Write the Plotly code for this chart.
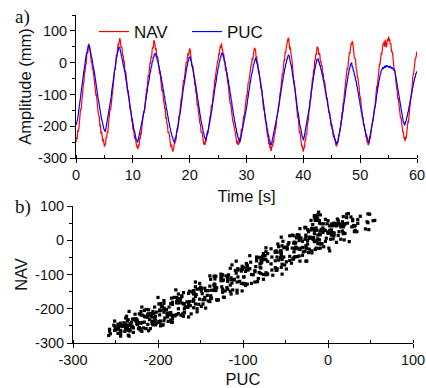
import plotly.graph_objects as go

# ---------------- data ----------------
# Respiratory amplitude (mm), sampled every 0.1 s from 0 to 60 s
nav = [
    -250,-235,-240,-214,-215,-209,-179,-175,-145,-148,-121,-97,-99,-67,-61,-27,-31,-6,-4,25,33,31,58,57,
    51,25,29,1,3,-23,-19,-37,-61,-55,-84,-102,-101,-126,-127,-157,-167,-169,-198,-197,-224,-217,-229,-248,-240,-258,-264,-256,
    -258,-233,-237,-217,-221,-196,-177,-177,-145,-149,-122,-101,-97,-83,-49,-46,-21,-23,6,25,22,43,60,54,76,77,
    70,49,50,48,21,23,4,4,-27,-25,-35,-60,-67,-92,-86,-114,-118,-146,-148,-155,-183,-183,-210,-205,-220,-239,-231,-252,-250,-267,-263,-272,
    -257,-263,-236,-241,-220,-226,-202,-185,-186,-155,-156,-147,-118,-114,-84,-85,-59,-39,-45,-20,-1,-3,19,15,42,47,45,69,68,
    57,39,45,19,20,17,-10,-10,-36,-32,-55,-59,-88,-87,-94,-122,-126,-146,-143,-174,-173,-193,-194,-222,-218,-224,-247,-247,-266,-258,-265,-280,-274,
    -272,-250,-255,-236,-244,-218,-205,-210,-185,-167,-171,-147,-142,-113,-116,-87,-83,-55,-62,-39,-22,-23,3,-1,16,30,22,42,45,
    39,13,15,-11,-10,-16,-44,-47,-72,-69,-95,-100,-132,-131,-148,-170,-167,-191,-194,-220,-217,-222,-243,-242,-258,-249,-259,
    -242,-249,-230,-216,-224,-203,-205,-176,-167,-165,-136,-137,-128,-99,-88,-85,-52,-55,-35,-16,-20,4,7,29,23,42,54,47,61,
    41,43,20,27,4,3,-24,-23,-34,-61,-63,-70,-99,-100,-128,-126,-143,-166,-161,-186,-187,-210,-211,-216,-237,-236,-255,-246,-258,-257,
    -253,-236,-245,-222,-208,-215,-195,-195,-167,-169,-145,-149,-122,-104,-105,-82,-61,-64,-49,-25,-31,-7,-6,15,8,32,36,47,43,
    39,14,20,-3,-4,-31,-25,-48,-51,-80,-81,-89,-120,-125,-147,-147,-178,-180,-187,-212,-208,-232,-233,-256,-249,-266,-265,-278,-273,
    -258,-264,-247,-251,-222,-225,-204,-205,-179,-162,-164,-140,-138,-107,-96,-90,-60,-59,-33,-35,-9,8,7,34,30,48,62,58,76,78,
    66,42,50,23,18,10,-21,-26,-56,-57,-78,-107,-107,-136,-144,-172,-172,-200,-219,-218,-243,-240,-262,-261,-277,-280,
    -266,-269,-244,-246,-224,-227,-195,-185,-179,-147,-146,-120,-116,-83,-77,-49,-49,-23,-22,9,7,28,24,48,49,
    45,25,29,27,1,6,-11,-8,-34,-32,-58,-56,-64,-87,-91,-115,-109,-133,-134,-159,-153,-176,-179,-201,-194,-218,-216,-236,-230,-245,-241,-258,-262,-260,
    -248,-252,-227,-231,-208,-214,-186,-181,-157,-157,-126,-129,-101,-83,-79,-50,-45,-18,-22,7,7,33,28,48,61,57,68,
    62,37,38,13,15,9,-19,-22,-47,-45,-68,-72,-101,-105,-114,-143,-149,-172,-170,-198,-192,-214,-215,-235,-229,-248,-247,-260,-257,
    -253,-232,-239,-219,-202,-206,-184,-183,-153,-141,-140,-109,-104,-76,-77,-51,-33,-31,-3,-6,16,31,25,46,58,58,
    66,50,72,62,48,58,74,68,82,
    68,75,57,61,35,36,30,2,-1,-26,-24,-48,-51,-79,-87,-114,-112,-128,-154,-152,-174,-174,-200,-200,-219,-216,-237,-236,-247,
    -233,-239,-215,-212,-186,-187,-162,-139,-138,-110,-107,-73,-68,-39,-35,-11,-12,13,15,34,36,
]

puc = [
    -197,-193,-184,-176,-161,-154,-139,-130,-112,-101,-83,-72,-54,-43,-25,-15,2,10,25,31,44,48,55,
    53,47,34,32,19,15,1,-5,-19,-26,-41,-49,-65,-73,-90,-98,-114,-122,-137,-144,-158,-164,-178,-183,-195,-198,-209,-211,-217,
    -214,-203,-199,-186,-180,-165,-158,-141,-133,-115,-107,-88,-79,-60,-52,-34,-26,-9,-2,13,18,32,35,46,49,
    47,38,35,23,20,7,2,-12,-18,-33,-39,-55,-62,-79,-86,-102,-110,-126,-134,-149,-157,-172,-178,-193,-198,-212,-216,-228,-231,-242,-244,-251,
    -247,-238,-235,-224,-221,-208,-204,-190,-185,-170,-164,-148,-142,-124,-118,-101,-95,-78,-71,-55,-50,-34,-30,-16,-12,2,4,16,18,27,29,
    28,19,18,7,5,-7,-10,-23,-27,-41,-45,-61,-66,-81,-86,-102,-107,-124,-129,-145,-149,-165,-170,-185,-189,-203,-206,-219,-221,-233,-234,-244,-245,-251,
    -247,-236,-233,-220,-216,-202,-197,-181,-174,-158,-150,-133,-123,-106,-96,-79,-71,-55,-48,-32,-27,-13,-9,4,6,17,19,
    18,7,4,-8,-12,-26,-30,-45,-51,-67,-73,-90,-97,-115,-121,-138,-145,-162,-168,-183,-189,-203,-207,-220,-223,-234,-236,-244,
    -240,-230,-227,-215,-211,-197,-193,-178,-172,-156,-150,-134,-126,-109,-101,-84,-76,-60,-54,-38,-32,-17,-13,1,5,17,19,29,31,
    30,20,17,6,3,-11,-14,-29,-33,-49,-54,-71,-76,-95,-100,-118,-123,-142,-147,-164,-169,-185,-189,-204,-207,-222,-224,-236,-238,-247,-251,
    -247,-237,-234,-222,-219,-204,-200,-184,-179,-163,-156,-139,-132,-115,-108,-91,-84,-67,-61,-46,-40,-26,-22,-8,-6,5,7,15,
    12,0,-3,-16,-19,-35,-39,-56,-62,-79,-86,-104,-113,-132,-141,-159,-166,-183,-189,-206,-210,-226,-229,-243,-244,-257,-258,
    -256,-247,-244,-232,-230,-216,-212,-198,-193,-178,-172,-156,-149,-131,-125,-108,-102,-84,-78,-62,-56,-40,-35,-21,-17,-4,-1,11,12,22,24,
    22,10,7,-6,-10,-26,-30,-48,-54,-73,-80,-99,-106,-125,-132,-151,-158,-176,-182,-198,-202,-218,-221,-233,-235,-244,
    -239,-229,-225,-212,-207,-192,-187,-169,-163,-144,-137,-118,-111,-92,-85,-66,-60,-42,-37,-21,-17,-3,0,10,13,
    12,3,2,-9,-10,-22,-24,-38,-40,-55,-58,-74,-78,-94,-97,-114,-118,-134,-139,-155,-159,-174,-178,-193,-196,-210,-212,-226,-227,-239,-240,-250,-250,-257,
    -252,-242,-238,-225,-220,-205,-199,-183,-176,-158,-151,-133,-124,-106,-99,-81,-74,-58,-52,-37,-32,-19,-16,-5,-3,
    0,-13,-14,-26,-27,-40,-42,-55,-58,-73,-77,-92,-96,-113,-117,-134,-138,-154,-159,-174,-177,-193,-195,-209,-211,-225,-226,-237,-238,-248,-250,
    -246,-235,-231,-218,-214,-198,-193,-176,-170,-151,-145,-126,-120,-101,-95,-78,-73,-56,-53,-39,-36,-24,-23,
    -18,-15,-20,-14,-10,-16,-12,-8,-13,-9,-14,-11,-16,-12,-10,-15,-19,-14,-20,-17,-24,-22,
    -25,-36,-40,-55,-60,-76,-82,-99,-107,-124,-131,-147,-154,-169,-173,-187,-188,-197,
    -194,-185,-183,-171,-169,-156,-152,-138,-133,-119,-114,-99,-95,-80,-76,-62,-59,-47,-45,-34,-33,-27,
]

sample_step_s = 0.1
time_nav = [round(i * sample_step_s, 1) for i in range(len(nav))]
time_puc = [round(i * sample_step_s, 1) for i in range(len(puc))]
n_pairs = min(len(nav), len(puc))

series_names = ["NAV", "PUC"]
panel_labels = ["a)", "b)"]
time_ticks = [0, 10, 20, 30, 40, 50, 60]
amp_ticks = [-300, -200, -100, 0, 100]
puc_ticks = [-300, -200, -100, 0, 100]
nav_ticks = [-300, -200, -100, 0, 100]

# ---------------- figure ----------------
W, H = 426, 388
ML, MR, MT, MB = 73, 9, 15, 45          # plot area: x 73..417, y 15..343
PW, PH = W - ML - MR, H - MT - MB
SANS = "Liberation Sans, Arial, sans-serif"
SERIF = "Liberation Serif, Times New Roman, serif"


def fx(p):
    return (p - ML) / PW


def fy(p):
    return (H - MB - p) / PH


def labels(vals):
    return [str(v) for v in vals]   # plain hyphen-minus as in the reference


fig = go.Figure()
fig.add_trace(go.Scatter(x=time_nav, y=nav, mode="lines", name=series_names[0],
                         line=dict(color="#ff0000", width=1.2), xaxis="x", yaxis="y"))
fig.add_trace(go.Scatter(x=time_puc, y=puc, mode="lines", name=series_names[1],
                         line=dict(color="#0000ff", width=1.2), xaxis="x", yaxis="y"))
fig.add_trace(go.Scatter(x=puc[:n_pairs], y=nav[:n_pairs], mode="markers", showlegend=False,
                         marker=dict(color="black", size=3.2, symbol="square", line=dict(width=0)),
                         xaxis="x2", yaxis="y2"))

axis_common = dict(
    showline=True, linecolor="black", linewidth=1,
    showgrid=False, zeroline=False, automargin=False,
    ticks="outside", ticklen=5, tickwidth=1, tickcolor="black",
    tickfont=dict(family=SANS, size=14.5, color="#111"),
    tickmode="array",
)
title_font = dict(family=SANS, size=16.5, color="#111")

fig.update_layout(
    width=W, height=H,
    margin=dict(l=ML, r=MR, t=MT, b=MB, autoexpand=False),
    paper_bgcolor="white", plot_bgcolor="white",
    xaxis=dict(axis_common, domain=[fx(76), fx(417)], range=[0, 60],
               tickvals=time_ticks, ticktext=labels(time_ticks), ticklen=4,
               minor=dict(tickmode="linear", tick0=0, dtick=5, ticks="inside", ticklen=3, tickcolor="black"),
               anchor="y",
               title=dict(text="Time [s]", font=title_font, standoff=8)),
    yaxis=dict(axis_common, domain=[fy(158), fy(15)], range=[-300, 150],
               tickvals=amp_ticks, ticktext=labels(amp_ticks),
               minor=dict(tickmode="linear", tick0=-300, dtick=50, ticks="outside", ticklen=3, tickcolor="black"),
               anchor="x",
               title=dict(text="Amplitude (mm)", font=title_font, standoff=2)),
    xaxis2=dict(axis_common, domain=[fx(73), fx(413)], range=[-300, 100],
                tickvals=puc_ticks, ticktext=labels(puc_ticks), ticklen=4,
                minor=dict(tickmode="linear", tick0=-300, dtick=50, ticks="inside", ticklen=3, tickcolor="black"),
                anchor="y2",
                title=dict(text="PUC", font=title_font, standoff=6)),
    yaxis2=dict(axis_common, domain=[fy(343), fy(206)], range=[-300, 100],
                tickvals=nav_ticks, ticktext=labels(nav_ticks),
                minor=dict(tickmode="linear", tick0=-300, dtick=50, ticks="outside", ticklen=3, tickcolor="black"),
                anchor="x2",
                title=dict(text="NAV", font=title_font, standoff=3)),
    legend=dict(orientation="h", x=fx(94), xanchor="left", y=fy(14), yanchor="top",
                font=dict(family=SANS, size=17, color="#111"),
                bgcolor="rgba(0,0,0,0)", borderwidth=0,
                entrywidth=48, entrywidthmode="pixels", tracegroupgap=0),
    showlegend=True,
    annotations=[
        dict(text=panel_labels[0], xref="paper", yref="paper", x=fx(13), y=fy(17),
             xanchor="left", yanchor="middle", showarrow=False,
             font=dict(family=SERIF, size=19, color="#111")),
        dict(text=panel_labels[1], xref="paper", yref="paper", x=fx(13), y=fy(207),
             xanchor="left", yanchor="middle", showarrow=False,
             font=dict(family=SERIF, size=19, color="#111")),
    ],
)

# remove the browser's default 8px page margin so the figure sits at the window origin
fig.write_html("out.html", config={"displayModeBar": False},
               post_script="document.body.style.margin='0px';")
